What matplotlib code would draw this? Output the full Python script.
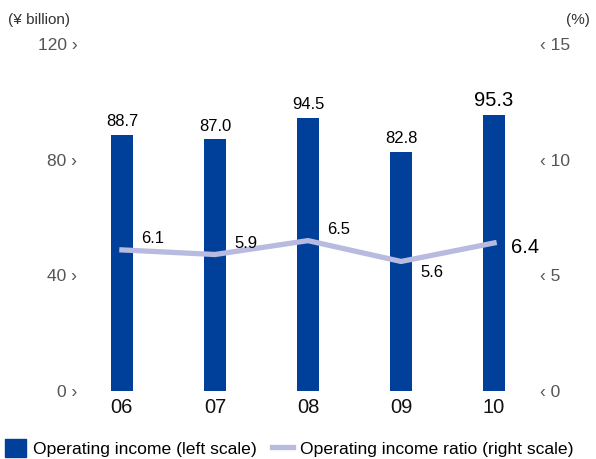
import matplotlib.pyplot as plt
from matplotlib.patches import Patch
from matplotlib.lines import Line2D

plt.rcParams['font.family'] = ['Liberation Sans', 'DejaVu Sans']

years = ['06', '07', '08', '09', '10']
income = [88.7, 87.0, 94.5, 82.8, 95.3]
ratio = [6.1, 5.9, 6.5, 5.6, 6.4]
left_ticks = [0, 40, 80, 120]
right_ticks = [0, 5, 10, 15]

bar_color = '#00409a'
line_color = '#b8bbdf'
tick_color = '#555555'

fig = plt.figure(figsize=(5.96, 4.59), dpi=100)
ax = fig.add_axes([94 / 596, 68 / 459, 428 / 596, 347 / 459])
x = list(range(len(years)))

ax.bar(x, income, width=0.24, color=bar_color, zorder=2)
ax.set_xlim(-0.3, 4.3)
ax.set_ylim(0, 120)
ax.set_yticks(left_ticks)
ax.set_yticklabels([f'{t} \u203a' for t in left_ticks], color=tick_color, fontsize=12.5)
ax.tick_params(axis='y', length=0, pad=12)
ax.set_xticks(x)
ax.set_xticklabels(years, fontsize=14.5, color='#111111')
ax.tick_params(axis='x', length=0, pad=5)
for s in ax.spines.values():
    s.set_visible(False)

for i, v in enumerate(income):
    last = i == len(income) - 1
    ax.annotate(f'{v:.1f}', (i, v), xytext=(0, 4), textcoords='offset points',
                ha='center', va='bottom', fontsize=14.5 if last else 12)

ax2 = ax.twinx()
ax2.plot(x, ratio, color=line_color, lw=3.8, zorder=3)
ax2.set_ylim(0, 15)
ax2.set_yticks(right_ticks)
ax2.set_yticklabels([f'\u2039 {t}' for t in right_ticks], color=tick_color, fontsize=12.5)
ax2.tick_params(axis='y', length=0, pad=13)
for s in ax2.spines.values():
    s.set_visible(False)

ratio_offsets = [(22, 8), (22, 8), (22, 8), (22, -8), (22, -3)]
for i, v in enumerate(ratio):
    last = i == len(ratio) - 1
    dx, dy = ratio_offsets[i]
    ax2.annotate(f'{v:.1f}', (i, v), xytext=(dx, dy), textcoords='offset points',
                 ha='center', va='center', fontsize=14.5 if last else 12)

fig.text(8 / 596, 1 - 20 / 459, '(\u00a5 billion)', fontsize=11, color='#333333', va='center')
fig.text(590 / 596, 1 - 20 / 459, '(%)', fontsize=11, color='#333333', va='center', ha='right')

handles = [Patch(color=bar_color), Line2D([], [], color=line_color, lw=3.8)]
fig.legend(handles, ['Operating income (left scale)', 'Operating income ratio (right scale)'],
           loc='lower left', bbox_to_anchor=(0.005, 0.0), ncol=2, frameon=False,
           fontsize=12.6, handlelength=1.2, handleheight=1.2, handletextpad=0.4,
           columnspacing=0.9, borderpad=0.1, borderaxespad=0)

fig.savefig('out.png', dpi=100)
